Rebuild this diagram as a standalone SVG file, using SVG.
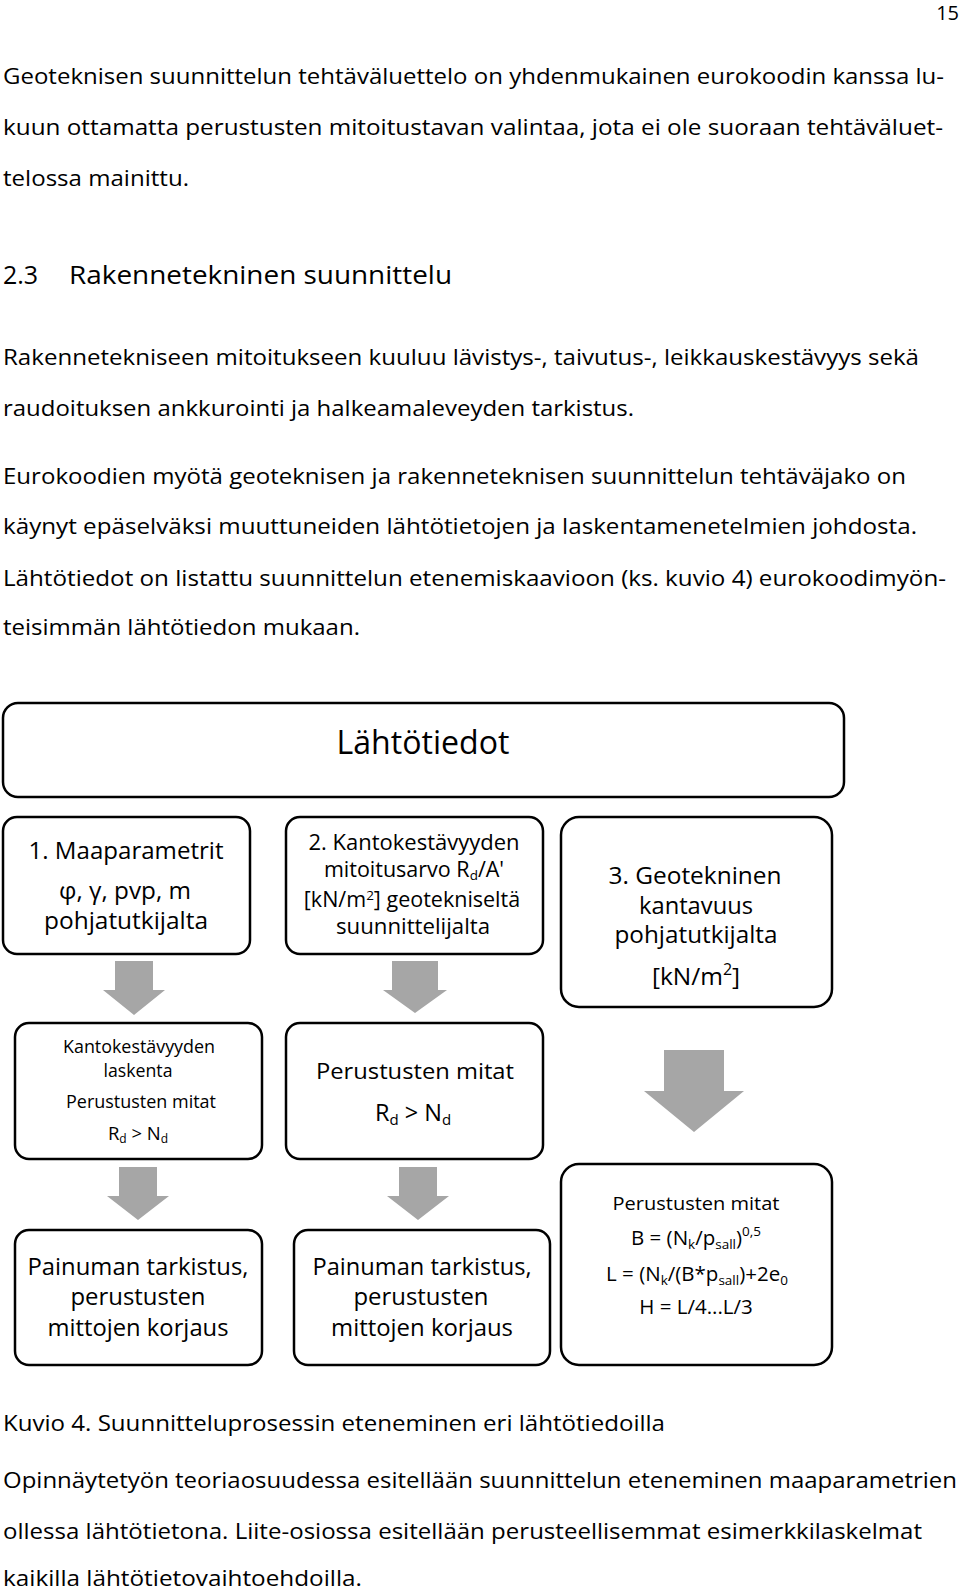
<svg xmlns="http://www.w3.org/2000/svg" width="960" height="1590" viewBox="0 0 960 1590">
<style>
text{font-family:"Open Sans","Noto Sans","DejaVu Sans",sans-serif;fill:#000}
.body{font-size:21px}
.box{fill:#fff;stroke:#000;stroke-width:2.5}
.arr{fill:#a6a6a6}
.c{text-anchor:middle}
</style>
<rect width="960" height="1590" fill="#fff"/>
<g id="page-text">
<text x="959" y="20" font-size="20" text-anchor="end">15</text>
<text class="body" x="3" y="84" textLength="941" lengthAdjust="spacingAndGlyphs">Geoteknisen suunnittelun tehtäväluettelo on yhdenmukainen eurokoodin kanssa lu-</text>
<text class="body" x="3" y="135" textLength="940" lengthAdjust="spacingAndGlyphs">kuun ottamatta perustusten mitoitustavan valintaa, jota ei ole suoraan tehtäväluet-</text>
<text class="body" x="3" y="186" textLength="186" lengthAdjust="spacingAndGlyphs">telossa mainittu.</text>
<text x="3" y="284" font-size="25">2.3</text>
<text x="69" y="284" font-size="25" textLength="383" lengthAdjust="spacingAndGlyphs">Rakennetekninen suunnittelu</text>
<text class="body" x="3" y="365" textLength="916" lengthAdjust="spacingAndGlyphs">Rakennetekniseen mitoitukseen kuuluu lävistys-, taivutus-, leikkauskestävyys sekä</text>
<text class="body" x="3" y="416" textLength="631" lengthAdjust="spacingAndGlyphs">raudoituksen ankkurointi ja halkeamaleveyden tarkistus.</text>
<text class="body" x="3" y="484" textLength="903" lengthAdjust="spacingAndGlyphs">Eurokoodien myötä geoteknisen ja rakenneteknisen suunnittelun tehtäväjako on</text>
<text class="body" x="3" y="534" textLength="914" lengthAdjust="spacingAndGlyphs">käynyt epäselväksi muuttuneiden lähtötietojen ja laskentamenetelmien johdosta.</text>
<text class="body" x="3" y="586" textLength="943" lengthAdjust="spacingAndGlyphs">Lähtötiedot on listattu suunnittelun etenemiskaavioon (ks. kuvio 4) eurokoodimyön-</text>
<text class="body" x="3" y="635" textLength="357" lengthAdjust="spacingAndGlyphs">teisimmän lähtötiedon mukaan.</text>
<text class="body" x="3" y="1431" textLength="662" lengthAdjust="spacingAndGlyphs">Kuvio 4. Suunnitteluprosessin eteneminen eri lähtötiedoilla</text>
<text class="body" x="3" y="1488" textLength="954" lengthAdjust="spacingAndGlyphs">Opinnäytetyön teoriaosuudessa esitellään suunnittelun eteneminen maaparametrien</text>
<text class="body" x="3" y="1539" textLength="919" lengthAdjust="spacingAndGlyphs">ollessa lähtötietona. Liite-osiossa esitellään perusteellisemmat esimerkkilaskelmat</text>
<text class="body" x="3" y="1586" textLength="359" lengthAdjust="spacingAndGlyphs">kaikilla lähtötietovaihtoehdoilla.</text>
</g>
<g id="connectors">
<path class="arr" d="M115,961H153V990H165L134,1015L103,990H115Z"/>
<path class="arr" d="M392,961H438V990H447L415,1013L383,990H392Z"/>
<path class="arr" d="M664,1050H724V1091H744L694,1132L644,1091H664Z"/>
<path class="arr" d="M119,1167H157V1196H169L138,1220L107,1196H119Z"/>
<path class="arr" d="M399,1167H437V1196H449L418,1220L387,1196H399Z"/>
</g>
<g id="lahtotiedot">
<rect class="box" x="3" y="703" width="841" height="94" rx="15"/>
<text class="c" x="423" y="754" font-size="32" textLength="173" lengthAdjust="spacingAndGlyphs">Lähtötiedot</text>
</g>
<g id="maaparametrit">
<rect class="box" x="3" y="817" width="247" height="137" rx="14"/>
<text class="c" x="126" y="859" font-size="24" textLength="195" lengthAdjust="spacingAndGlyphs">1. Maaparametrit</text>
<text class="c" x="125" y="899" font-size="23.5" textLength="132" lengthAdjust="spacingAndGlyphs">φ, γ, pvp, m</text>
<text class="c" x="126" y="929" font-size="23.5" textLength="164" lengthAdjust="spacingAndGlyphs">pohjatutkijalta</text>
</g>
<g id="kantokestavyyden-mitoitusarvo">
<rect class="box" x="286" y="817" width="257" height="137" rx="14"/>
<text class="c" x="414" y="850" font-size="21.5" textLength="211" lengthAdjust="spacingAndGlyphs">2. Kantokestävyyden</text>
<text class="c" x="414" y="877" font-size="21.5">mitoitusarvo R<tspan font-size="13.5" dy="3">d</tspan><tspan dy="-3">/A'</tspan></text>
<text class="c" x="412" y="907" font-size="21.5">[kN/m<tspan font-size="13.5" dy="-7">2</tspan><tspan dy="7">] geotekniseltä</tspan></text>
<text class="c" x="413" y="934" font-size="21.5" textLength="154" lengthAdjust="spacingAndGlyphs">suunnittelijalta</text>
</g>
<g id="geotekninen-kantavuus">
<rect class="box" x="561" y="817" width="271" height="190" rx="18"/>
<text class="c" x="695" y="884" font-size="23" textLength="173" lengthAdjust="spacingAndGlyphs">3. Geotekninen</text>
<text class="c" x="696" y="914" font-size="23" textLength="114" lengthAdjust="spacingAndGlyphs">kantavuus</text>
<text class="c" x="696" y="943" font-size="23" textLength="163" lengthAdjust="spacingAndGlyphs">pohjatutkijalta</text>
<text class="c" x="696" y="985" font-size="24.5">[kN/m<tspan font-size="16" dy="-10">2</tspan><tspan dy="10">]</tspan></text>
</g>
<g id="kantokestavyyden-laskenta">
<rect class="box" x="15" y="1023" width="247" height="136" rx="14"/>
<text class="c" x="139" y="1053" font-size="18" textLength="152" lengthAdjust="spacingAndGlyphs">Kantokestävyyden</text>
<text class="c" x="138" y="1077" font-size="18" textLength="69" lengthAdjust="spacingAndGlyphs">laskenta</text>
<text class="c" x="141" y="1108" font-size="18" textLength="150" lengthAdjust="spacingAndGlyphs">Perustusten mitat</text>
<text class="c" x="138" y="1140" font-size="18.5">R<tspan font-size="12" dy="3">d</tspan><tspan dy="-3"> &gt; N</tspan><tspan font-size="12" dy="3">d</tspan></text>
</g>
<g id="perustusten-mitat-2">
<rect class="box" x="286" y="1023" width="257" height="136" rx="14"/>
<text class="c" x="415" y="1079" font-size="22.5" textLength="198" lengthAdjust="spacingAndGlyphs">Perustusten mitat</text>
<text class="c" x="413" y="1121" font-size="23.5">R<tspan font-size="15" dy="4">d</tspan><tspan dy="-4"> &gt; N</tspan><tspan font-size="15" dy="4">d</tspan></text>
</g>
<g id="painuman-tarkistus-1">
<rect class="box" x="15" y="1230" width="247" height="135" rx="14"/>
<text class="c" x="138" y="1275" font-size="23" textLength="221" lengthAdjust="spacingAndGlyphs">Painuman tarkistus,</text>
<text class="c" x="138" y="1305" font-size="23" textLength="135" lengthAdjust="spacingAndGlyphs">perustusten</text>
<text class="c" x="138" y="1336" font-size="23" textLength="181" lengthAdjust="spacingAndGlyphs">mittojen korjaus</text>
</g>
<g id="painuman-tarkistus-2">
<rect class="box" x="294" y="1230" width="256" height="135" rx="14"/>
<text class="c" x="422" y="1275" font-size="23" textLength="219" lengthAdjust="spacingAndGlyphs">Painuman tarkistus,</text>
<text class="c" x="421" y="1305" font-size="23" textLength="135" lengthAdjust="spacingAndGlyphs">perustusten</text>
<text class="c" x="422" y="1336" font-size="23" textLength="182" lengthAdjust="spacingAndGlyphs">mittojen korjaus</text>
</g>
<g id="perustusten-mitat-3">
<rect class="box" x="561" y="1164" width="271" height="201" rx="18"/>
<text class="c" x="696" y="1210" font-size="19" textLength="167" lengthAdjust="spacingAndGlyphs">Perustusten mitat</text>
<text class="c" x="696" y="1245" font-size="20.5">B = (N<tspan font-size="13.5" dy="4">k</tspan><tspan dy="-4">/p</tspan><tspan font-size="13.5" dy="4">sall</tspan><tspan dy="-4">)</tspan><tspan font-size="13.5" dy="-9">0,5</tspan></text>
<text class="c" x="697" y="1281" font-size="20.5">L = (N<tspan font-size="13.5" dy="4">k</tspan><tspan dy="-4">/(B*p</tspan><tspan font-size="13.5" dy="4">sall</tspan><tspan dy="-4">)+2e</tspan><tspan font-size="13.5" dy="4">0</tspan></text>
<text class="c" x="696" y="1314" font-size="20.5">H = L/4...L/3</text>
</g>
</svg>
